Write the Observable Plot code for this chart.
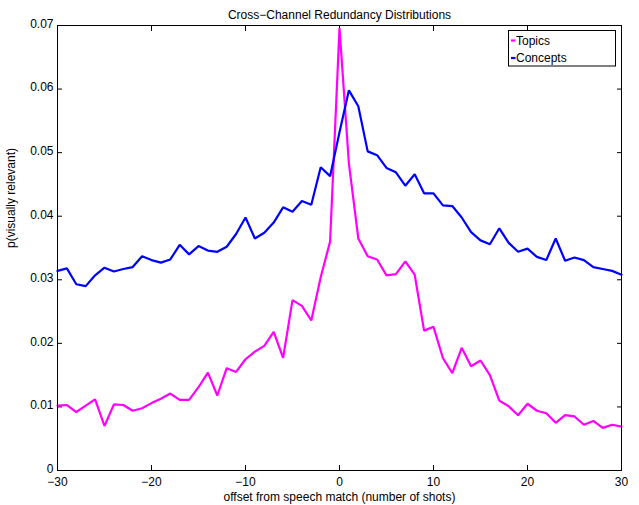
<!DOCTYPE html>
<html>
<head>
<meta charset="utf-8">
<script src="https://cdn.jsdelivr.net/npm/d3@7"></script>
<script src="https://cdn.jsdelivr.net/npm/@observablehq/plot@0.6"></script>
<style>
  html, body { margin: 0; padding: 0; background: #fff; }
  #chart svg { display: block; }
</style>
</head>
<body>
<div id="chart"></div>
<script>
const title = "Cross\u2212Channel Redundancy Distributions";
const xLabel = "offset from speech match (number of shots)";
const yLabel = "p(visually relevant)";
const seriesNames = ["Topics", "Concepts"];
const seriesColors = ["#ff00ff", "#0000ff"];
const xTicks = [-30, -20, -10, 0, 10, 20, 30];
const yTicks = [0, 0.01, 0.02, 0.03, 0.04, 0.05, 0.06, 0.07];

const offsets = [
  -30,-29,-28,-27,-26,-25,-24,-23,-22,-21,-20,-19,-18,-17,-16,-15,-14,-13,-12,-11,
  -10,-9,-8,-7,-6,-5,-4,-3,-2,-1,0,1,2,3,4,5,6,7,8,9,
  10,11,12,13,14,15,16,17,18,19,20,21,22,23,24,25,26,27,28,29,30
];
const topics = [
  0.0102,0.0103,0.0092,0.0102,0.0112,0.0070,0.0104,0.0103,0.0094,0.0098,
  0.0106,0.0113,0.0121,0.0111,0.0111,0.0131,0.0154,0.0118,0.0161,0.0155,
  0.0175,0.0187,0.0196,0.0218,0.0177,0.0268,0.0259,0.0236,0.0304,0.0360,
  0.0696,0.0483,0.0365,0.0337,0.0332,0.0307,0.0309,0.0329,0.0308,0.0220,
  0.0226,0.0177,0.0153,0.0193,0.0164,0.0173,0.0150,0.0110,0.0101,0.0087,
  0.0105,0.0094,0.0090,0.0075,0.0087,0.0085,0.0072,0.0078,0.0067,0.0072,0.0069
];
const concepts = [
  0.0314,0.0318,0.0293,0.0290,0.0307,0.0319,0.0313,0.0317,0.0320,0.0337,
  0.0331,0.0327,0.0332,0.0355,0.0340,0.0353,0.0346,0.0344,0.0352,0.0372,
  0.0398,0.0365,0.0374,0.0390,0.0414,0.0407,0.0424,0.0418,0.0477,0.0463,
  0.0532,0.0598,0.0573,0.0502,0.0496,0.0476,0.0469,0.0448,0.0466,0.0436,
  0.0436,0.0417,0.0416,0.0398,0.0375,0.0362,0.0356,0.0381,0.0358,0.0344,
  0.0349,0.0336,0.0331,0.0365,0.0330,0.0335,0.0331,0.0320,0.0317,0.0314,0.0308
];

const rows = [];
offsets.forEach((o, i) => {
  rows.push({series: seriesNames[0], x: o, y: topics[i]});
});
offsets.forEach((o, i) => {
  rows.push({series: seriesNames[1], x: o, y: concepts[i]});
});

const FONT = "'Liberation Sans', Arial, Helvetica, sans-serif";
const FS = 12;
const fmtY = d => d === 0 ? "0" : d3.format(".2f")(d);
const fmtX = d => d < 0 ? "\u2212" + Math.abs(d) : String(d);

const chart = Plot.plot({
  width: 639,
  height: 505,
  marginLeft: 57,
  marginRight: 18,
  marginTop: 25,
  marginBottom: 35,
  style: {fontFamily: FONT, fontSize: FS + "px", color: "#000", background: "#fff", overflow: "visible"},
  x: {domain: [-30, 30]},
  y: {domain: [0, 0.07]},
  color: {domain: seriesNames, range: seriesColors},
  marks: [
    Plot.axisX({anchor: "bottom", ticks: xTicks, tickSize: 0, tickPadding: 7, tickFormat: fmtX, label: null, fontSize: FS}),
    Plot.axisX({anchor: "bottom", ticks: xTicks, tickSize: -5, text: null, label: null}),
    Plot.axisX({anchor: "top", ticks: xTicks, tickSize: -5, text: null, label: null}),
    Plot.axisY({anchor: "left", ticks: yTicks, tickSize: 0, tickPadding: 4, dy: -1.5, tickFormat: fmtY, label: null, fontSize: FS}),
    Plot.axisY({anchor: "left", ticks: yTicks, tickSize: -5, text: null, label: null}),
    Plot.axisY({anchor: "right", ticks: yTicks, tickSize: -5, text: null, label: null}),
    Plot.line(rows, {x: "x", y: "y", z: "series", stroke: "series", strokeWidth: 2.2, strokeLinejoin: "miter"}),
    Plot.frame({stroke: "#000", strokeWidth: 1}),
    Plot.text([title], {text: d => d, frameAnchor: "top", dy: -15, fontSize: FS}),
    Plot.text([xLabel], {text: d => d, frameAnchor: "bottom", dy: 30, fontSize: FS}),
    Plot.text([yLabel], {text: d => d, frameAnchor: "left", rotate: -90, dx: -46, fontSize: FS})
  ]
});

// Legend box (MATLAB style) inside the top-right corner of the plot
const svg = d3.select(chart);
const lg = svg.append("g").attr("font-family", FONT).attr("font-size", FS).attr("text-anchor", "start");
const lx = 508.5, ly = 30.5, lw = 107, lh = 35.5;
lg.append("rect").attr("x", lx).attr("y", ly).attr("width", lw).attr("height", lh)
  .attr("fill", "#fff").attr("stroke", "#000").attr("stroke-width", 1);
seriesNames.forEach((name, i) => {
  const cy = ly + 10 + i * 17.5;
  lg.append("line").attr("x1", lx + 2.5).attr("x2", lx + 7).attr("y1", cy).attr("y2", cy)
    .attr("stroke", seriesColors[i]).attr("stroke-width", 2.2);
  lg.append("text").attr("x", lx + 7.5).attr("y", cy).attr("dy", "0.35em")
    .attr("text-anchor", "start").text(name);
});

document.getElementById("chart").appendChild(chart);
</script>
</body>
</html>
